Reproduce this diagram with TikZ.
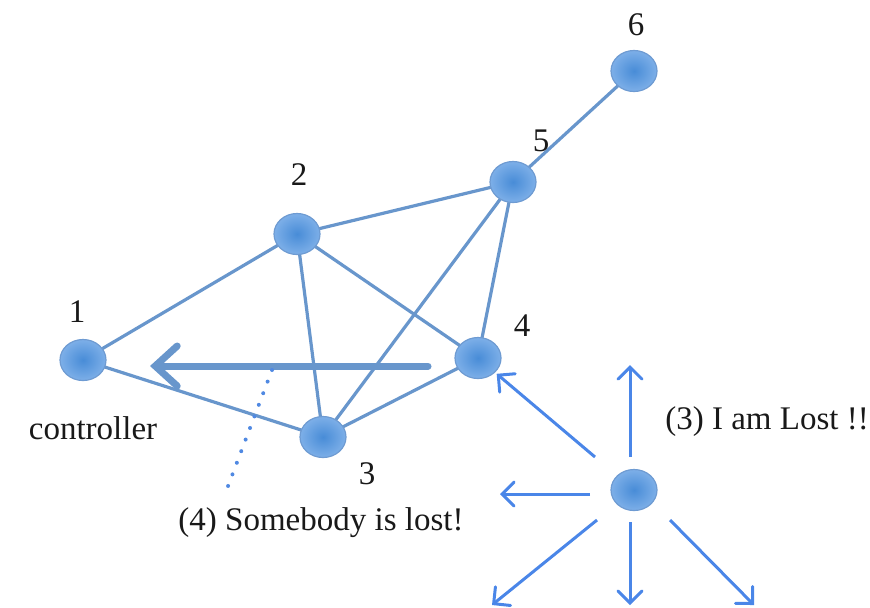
\documentclass[tikz,border=0pt]{standalone}
\usepackage{fontspec}
\setmainfont{Liberation Serif}
\usetikzlibrary{shapes.geometric,arrows.meta}
\definecolor{edgeblue}{RGB}{104,150,204}
\definecolor{nodein}{RGB}{72,140,215}
\definecolor{nodeout}{RGB}{125,175,232}
\definecolor{nodeborder}{RGB}{110,155,210}
\definecolor{brightblue}{RGB}{74,134,232}
\definecolor{txt}{RGB}{25,25,25}
\tikzset{
  netnode/.style={ellipse, minimum width=23pt, minimum height=20.5pt, inner sep=0pt,
    draw=nodeborder, line width=0.6pt, inner color=nodein, outer color=nodeout},
  link/.style={draw=edgeblue, line width=1.6pt},
  lbl/.style={text=txt, font=\fontsize{16.5}{19}\selectfont, inner sep=0pt},
  bigarrow/.style={draw=edgeblue, line width=3.5pt, line cap=round,
    -{Straight Barb[length=11pt,width=20pt,line cap=round]}},
  bcast/.style={draw=brightblue, line width=1.5pt,
    -{Straight Barb[length=6pt,width=12pt,line cap=round]}},
  dotline/.style={draw=brightblue!80!edgeblue, line width=2pt, line cap=round,
    dash pattern=on 0pt off 6.2pt}
}
\begin{document}
\begin{tikzpicture}[x=0.5pt,y=-0.5pt]
\useasboundingbox (0,0) rectangle (870,607);
% edges
\coordinate (p1) at (83,360);
\coordinate (p2) at (297,234);
\coordinate (p3) at (323,437);
\coordinate (p4) at (478,358);
\coordinate (p5) at (513,182);
\coordinate (p6) at (634,71);
\draw[link] (p1) -- (p2);
\draw[link] (p1) -- (p3);
\draw[link] (p2) -- (p5);
\draw[link] (p2) -- (p3);
\draw[link] (p2) -- (p4);
\draw[link] (p3) -- (p4);
\draw[link] (p3) -- (p5);
\draw[link] (p4) -- (p5);
\draw[link] (p5) -- (p6);
% nodes
\node[netnode] (n1) at (p1) {};
\node[netnode] (n2) at (p2) {};
\node[netnode] (n3) at (p3) {};
\node[netnode] (n4) at (p4) {};
\node[netnode] (n5) at (p5) {};
\node[netnode] (n6) at (p6) {};
\node[netnode] (lost) at (634,490) {};
% labels
\node[lbl] (l1) at (77,312) {1};
\node[lbl] (l2) at (299,175) {2};
\node[lbl] (l3) at (367,474) {3};
\node[lbl] (l4) at (522,326) {4};
\node[lbl] (l5) at (541,141) {5};
\node[lbl] (l6) at (636,25) {6};
\node[lbl] (ctrl) at (93,428) {controller};
\node[lbl] (somebody) at (321,523) {(4) Somebody is lost!};
\node[lbl] (iamlost) at (767,422) {(3) I am Lost !!};
% big arrow
\coordinate (bigstart) at (428,366);
\coordinate (bigend) at (150,366);
\draw[bigarrow] (bigstart) -- (bigend);
% dotted
\coordinate (dotA) at (272,370);
\coordinate (dotB) at (225,494);
\draw[dotline] (dotA) -- (dotB);
% broadcast arrows
\coordinate (sUp) at (630,457);
\coordinate (eUp) at (630,365);
\coordinate (s4) at (595,457);
\coordinate (sL) at (590,494);
\coordinate (eL) at (500,494);
\coordinate (sDL) at (597,520);
\coordinate (eDL) at (492,605);
\coordinate (sD) at (630,522);
\coordinate (eD) at (630,605);
\coordinate (sDR) at (670,520);
\coordinate (eDR) at (754,605);
\draw[bcast] (sUp) -- (eUp);
\draw[bcast,shorten >=1pt] (s4) -- (n4);
\draw[bcast] (sL) -- (eL);
\draw[bcast] (sDL) -- (eDL);
\draw[bcast] (sD) -- (eD);
\draw[bcast] (sDR) -- (eDR);
\end{tikzpicture}
\end{document}
